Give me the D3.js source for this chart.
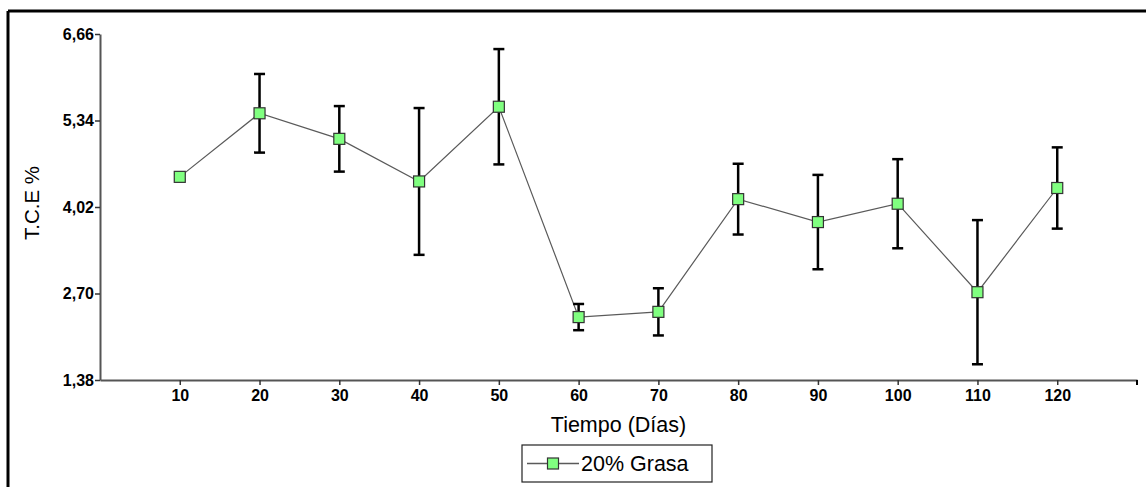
<!DOCTYPE html>
<html>
<head>
<meta charset="utf-8">
<script src="https://cdn.jsdelivr.net/npm/d3@7"></script>
<style>
  html, body { margin: 0; padding: 0; background: #fff; }
  svg { display: block; }
  text { font-family: Arial, "Liberation Sans", sans-serif; }
</style>
</head>
<body>
<svg id="chart" width="1146" height="487"></svg>
<script>
// Storage days and T.C.E % measurements (mean and +/- deviation)
const dias = [10, 20, 30, 40, 50, 60, 70, 80, 90, 100, 110, 120];
const tce = [4.48, 5.45, 5.06, 4.41, 5.55, 2.34, 2.42, 4.14, 3.79, 4.07, 2.72, 4.31];
const desviacion = [0.04, 0.60, 0.50, 1.12, 0.88, 0.20, 0.36, 0.54, 0.72, 0.68, 1.10, 0.62];
const yTicks = [1.38, 2.70, 4.02, 5.34, 6.66];
const xTicks = [10, 20, 30, 40, 50, 60, 70, 80, 90, 100, 110, 120];
const serieNombre = "20% Grasa";

const svg = d3.select("#chart");

// Outer frame (top and left edges)
svg.append("line").attr("x1", 8).attr("x2", 1146).attr("y1", 11).attr("y2", 11)
  .attr("stroke", "#000").attr("stroke-width", 3);
svg.append("line").attr("x1", 8).attr("x2", 8).attr("y1", 11).attr("y2", 487)
  .attr("stroke", "#000").attr("stroke-width", 3);

const x = d3.scaleLinear().domain([0, 130]).range([100, 1137]);
const y = d3.scaleLinear().domain([1.38, 6.66]).range([380, 34]);

// Y axis
const yAxis = svg.append("g").attr("transform", `translate(${x(0)},0)`)
  .call(d3.axisLeft(y).tickValues(yTicks).tickSize(5).tickSizeOuter(0)
    .tickFormat(d => d3.format(".2f")(d).replace(".", ",")));
yAxis.select(".domain").attr("stroke", "#555").attr("stroke-width", 2);
yAxis.selectAll(".tick line").attr("stroke", "#333").attr("stroke-width", 1.5);
yAxis.selectAll(".tick text").attr("font-size", 16).attr("font-weight", "bold")
  .attr("fill", "#000").attr("x", -6).attr("font-family", "Arial, 'Liberation Sans', sans-serif");

// X axis
const xAxis = svg.append("g").attr("transform", `translate(0,${y(1.38)})`)
  .call(d3.axisBottom(x).tickValues(xTicks).tickSize(5).tickSizeOuter(0));
xAxis.select(".domain").attr("stroke", "#555").attr("stroke-width", 2);
xAxis.selectAll(".tick line").attr("stroke", "#333").attr("stroke-width", 1.5);
xAxis.selectAll(".tick text").attr("font-size", 16).attr("font-weight", "bold")
  .attr("fill", "#000").attr("y", 10).attr("font-family", "Arial, 'Liberation Sans', sans-serif");
// closing tick at the end of the x axis
svg.append("line").attr("x1", x(130)).attr("x2", x(130))
  .attr("y1", y(1.38)).attr("y2", y(1.38) + 5).attr("stroke", "#000").attr("stroke-width", 2);

// Axis titles
svg.append("text").attr("x", (x(0) + x(130)) / 2).attr("y", 432)
  .attr("text-anchor", "middle").attr("font-size", 21.5).attr("fill", "#000")
  .text("Tiempo (Días)");
svg.append("text").attr("transform", "translate(38.5,203) rotate(-90)")
  .attr("text-anchor", "middle").attr("font-size", 20.5).attr("fill", "#000")
  .text("T.C.E %");

const data = dias.map((d, i) => ({ dia: d, v: tce[i], e: desviacion[i] }));

// Connecting line
svg.append("path").datum(data)
  .attr("fill", "none").attr("stroke", "#5a5a5a").attr("stroke-width", 1.2)
  .attr("d", d3.line().x(d => x(d.dia)).y(d => y(d.v)));

// Error bars
const eb = svg.append("g").attr("stroke", "#000").attr("stroke-width", 2.5);
data.forEach(d => {
  const cx = x(d.dia), top = y(d.v + d.e), bot = y(d.v - d.e);
  eb.append("line").attr("x1", cx).attr("x2", cx).attr("y1", top).attr("y2", bot);
  eb.append("line").attr("x1", cx - 5.5).attr("x2", cx + 5.5).attr("y1", top).attr("y2", top);
  eb.append("line").attr("x1", cx - 5.5).attr("x2", cx + 5.5).attr("y1", bot).attr("y2", bot);
});

// Markers
const ms = 11;
svg.append("g").selectAll("rect").data(data).join("rect")
  .attr("x", d => x(d.dia) - ms / 2).attr("y", d => y(d.v) - ms / 2)
  .attr("width", ms).attr("height", ms)
  .attr("fill", "#80ff80").attr("stroke", "#333").attr("stroke-width", 1.2);

// Legend
const lg = svg.append("g");
lg.append("rect").attr("x", 522).attr("y", 445).attr("width", 190).attr("height", 37)
  .attr("fill", "#fff").attr("stroke", "#222").attr("stroke-width", 1.2);
lg.append("line").attr("x1", 527).attr("x2", 579).attr("y1", 463.5).attr("y2", 463.5)
  .attr("stroke", "#5a5a5a").attr("stroke-width", 1.5);
lg.append("rect").attr("x", 553 - ms / 2).attr("y", 463.5 - ms / 2).attr("width", ms).attr("height", ms)
  .attr("fill", "#80ff80").attr("stroke", "#333").attr("stroke-width", 1.2);
lg.append("text").attr("x", 581).attr("y", 471).attr("font-size", 21.5).attr("fill", "#000")
  .text(serieNombre);
</script>
</body>
</html>
